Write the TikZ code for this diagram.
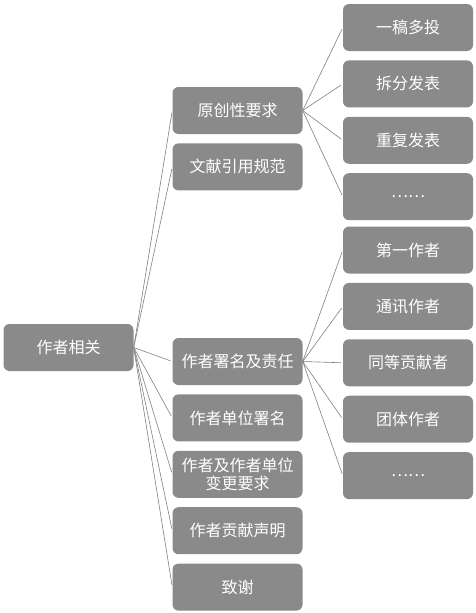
\documentclass[tikz,border=0pt]{standalone}
\usepackage{fontspec}
\setmainfont{Noto Sans CJK SC}
\usepackage{tikz}
\usetikzlibrary{positioning}
\definecolor{boxgray}{RGB}{138,138,138}

\begin{document}
\begin{tikzpicture}[x=1pt, y=-1pt]
\tikzset{
    every node/.style={align=center},
    topic/.style={fill=boxgray, rounded corners=6pt, text=white,
        minimum width=130pt, minimum height=47pt, inner sep=0pt,
        font=\fontsize{16}{18}\selectfont},
    link/.style={draw=gray, line width=0.6pt, shorten >=2pt}
}
\useasboundingbox (0,0) rectangle (475,613);

\node[topic] (root) at (68.5,347.5) {作者相关};

% second level
\node[topic] (orig) at (237.5,110.5) {原创性要求};
\node[topic, below=9pt of orig] (cite) {文献引用规范};
\node[topic] (sign) at (237.5,361.5) {作者署名及责任};
\node[topic, below=9pt of sign] (unit) {作者单位署名};
\node[topic, below=9pt of unit] (change) {作者及作者单位\\变更要求};
\node[topic, below=9pt of change] (contrib) {作者贡献声明};
\node[topic, below=9pt of contrib] (thanks) {致谢};

% third level
\node[topic] (multi) at (408,27.5) {一稿多投};
\node[topic, below=9pt of multi] (split) {拆分发表};
\node[topic, below=9pt of split] (repeat) {重复发表};
\node[topic, below=9pt of repeat] (origmore) {……};

\node[topic] (first) at (408,250) {第一作者};
\node[topic, below=9pt of first] (corr) {通讯作者};
\node[topic, below=9pt of corr] (equal) {同等贡献者};
\node[topic, below=9pt of equal] (group) {团体作者};
\node[topic, below=9pt of group] (signmore) {……};

% connectors
\foreach \n in {orig,cite,sign,unit,change,contrib,thanks}
    \draw[link] (root.east) -- (\n.west);
\foreach \n in {multi,split,repeat,origmore}
    \draw[link] (orig.east) -- (\n.west);
\foreach \n in {first,corr,equal,group,signmore}
    \draw[link] (sign.east) -- (\n.west);
\end{tikzpicture}
\end{document}
